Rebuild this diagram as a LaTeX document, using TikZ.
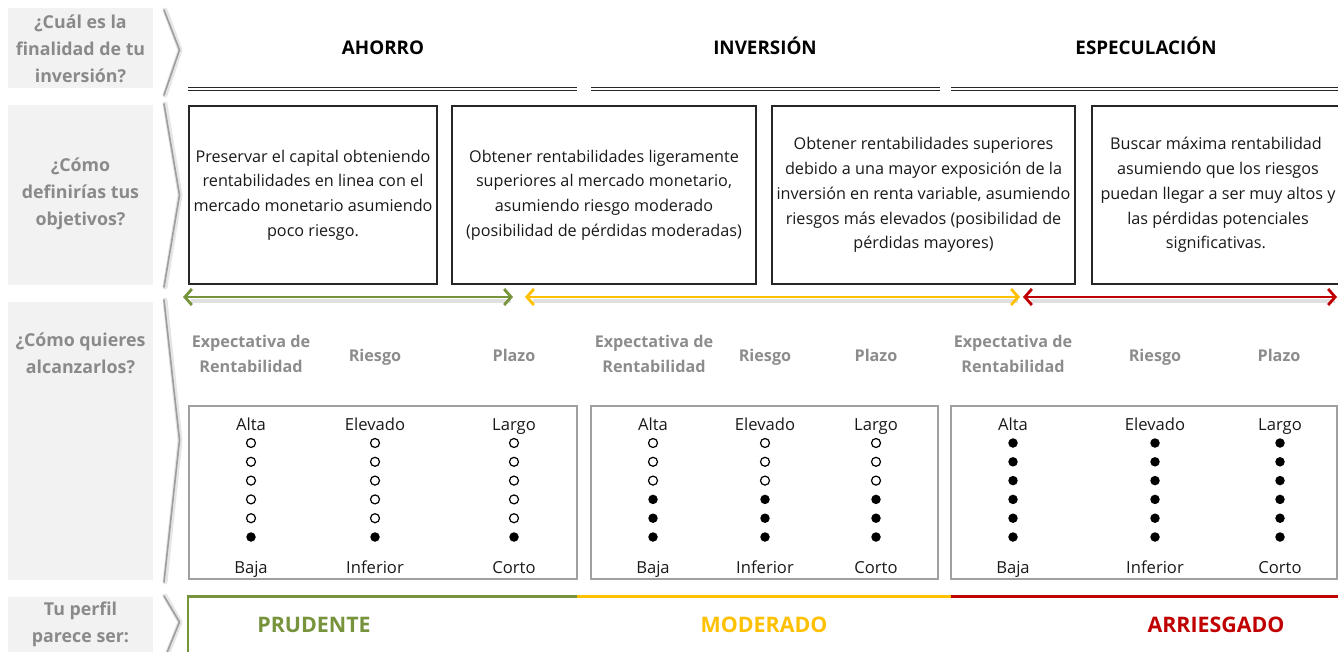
\documentclass[tikz,border=0pt]{standalone}
\usepackage{fontspec}
\setmainfont{Open Sans}
\usetikzlibrary{arrows.meta}
\definecolor{panelbg}{HTML}{F2F2F2}
\definecolor{paneltxt}{HTML}{8A8A8A}
\definecolor{hdrgray}{HTML}{8C8C8C}
\definecolor{cgreen}{HTML}{77933C}
\definecolor{cyellow}{HTML}{FFC000}
\definecolor{cred}{HTML}{C00000}
\definecolor{boxgray}{HTML}{A0A0A0}
\newcommand\myfs[2]{\fontsize{#1}{#2}\selectfont}
\begin{document}
\begin{tikzpicture}[x=1pt,y=-1pt,
  panel/.style={fill=panelbg, draw=none},
  ptext/.style={text=paneltxt, align=center, font=\bfseries\myfs{17.8}{27}, inner sep=0},
  chev/.style={draw=black!38, line width=1.6pt, line join=round, line cap=round},
  chevshadow/.style={draw=black!10, line width=5pt, line join=round, line cap=round},
  hdr/.style={font=\bfseries\myfs{18.8}{22}, text=black, inner sep=0, anchor=base},
  dbl/.style={draw=black!85, double=white, line width=1.2pt, double distance=1.6pt},
  objbox/.style={draw=black!85, line width=1.4pt, align=center, font=\myfs{16.2}{24.8}, text=black!90, inner sep=0},
  colhdr/.style={text=hdrgray, align=center, font=\bfseries\myfs{16.2}{25}, inner sep=0},
  dotbox/.style={draw=boxgray, line width=1.4pt},
  lbl/.style={font=\myfs{16.6}{18}, text=black!90, inner sep=0, anchor=base},
  opendot/.style={circle, draw=black, line width=1.2pt, fill=white, inner sep=0, minimum size=9pt},
  filldot/.style={circle, fill=black, inner sep=0, minimum size=9.5pt},
  rng/.style={line width=2.8pt, {Straight Barb[length=7pt,width=16pt]}-{Straight Barb[length=7pt,width=16pt]}},
  rngshadow/.style={draw=black!12, line width=4pt},
  prof/.style={font=\bfseries\myfs{21.4}{24}, inner sep=0, anchor=base},
  bar/.style={line width=2.8pt}
]
\useasboundingbox (0,0) rectangle (1338,651);

% ---- left panels ----
\fill[panel] (8,8) rectangle (153,88);
\fill[panel] (8,105) rectangle (153,285);
\fill[panel] (8,302) rectangle (153,580);
\fill[panel] (8,597) rectangle (153,660);

\node[ptext] (q1) at (80.5,49) {¿Cuál es la\\finalidad de tu\\inversión?};
\node[ptext] (q2) at (80.5,194) {¿Cómo\\definirías tus\\objetivos?};
\node[ptext] (q3) at (80.5,353.5) {¿Cómo quieres\\alcanzarlos?};
\node[ptext] (q4) at (80.5,624.5) {Tu perfil\\parece ser:};

% ---- chevrons ----
\foreach \ya/\yb/\yc in {10/50/95, 104/195/287, 300/440/582, 596/622/660}{
  \draw[chevshadow] (165,\ya) -- (180,\yb) -- (165,\yc);
  \draw[chev] (164,\ya) -- (179.5,\yb) -- (164,\yc);
}

% ---- headers ----
\node[hdr] (h1) at (383,54.5) {AHORRO};
\node[hdr] (h2) at (765,54.5) {INVERSIÓN};
\node[hdr] (h3) at (1146,54.5) {ESPECULACIÓN};
\coordinate (d1a) at (188,89); \coordinate (d1b) at (577,89);
\coordinate (d2a) at (591,89); \coordinate (d2b) at (940,89);
\coordinate (d3a) at (951,89); \coordinate (d3b) at (1345,89);
\draw[dbl] (d1a) -- (d1b);
\draw[dbl] (d2a) -- (d2b);
\draw[dbl] (d3a) -- (d3b);

% ---- objective boxes ----
\node[objbox, minimum width=248pt, minimum height=178pt] (o1) at (313,195)
  {Preservar el capital obteniendo\\rentabilidades en linea con el\\mercado monetario asumiendo\\poco riesgo.};
\node[objbox, minimum width=304pt, minimum height=178pt] (o2) at (604,195)
  {Obtener rentabilidades ligeramente\\superiores al mercado monetario,\\asumiendo riesgo moderado\\(posibilidad de pérdidas moderadas)};
\node[objbox, minimum width=303pt, minimum height=178pt] (o3) at (923.5,195)
  {Obtener rentabilidades superiores\\debido a una mayor exposición de la\\inversión en renta variable, asumiendo\\riesgos más elevados (posibilidad de\\pérdidas mayores)};
\node[objbox, minimum width=256pt, minimum height=178pt] (o4) at (1220,195)
  {\hspace*{-4pt}Buscar máxima rentabilidad\hspace*{4pt}\\\hspace*{-4pt}asumiendo que los riesgos\hspace*{4pt}\\\hspace*{-4pt}puedan llegar a ser muy altos y\hspace*{4pt}\\\hspace*{-4pt}las pérdidas potenciales\hspace*{4pt}\\\hspace*{-4pt}significativas.\hspace*{4pt}};

% ---- range arrows ----
\coordinate (g1) at (183,297); \coordinate (g2) at (513,297);
\coordinate (y1) at (525,297); \coordinate (y2) at (1020,297);
\coordinate (r1) at (1023,297); \coordinate (r2) at (1337,297);
\draw[rngshadow] ([shift={(8,4)}]g1) -- ([shift={(-2,4)}]g2);
\draw[rngshadow] ([shift={(8,4)}]y1) -- ([shift={(-2,4)}]y2);
\draw[rngshadow] ([shift={(8,4)}]r1) -- ([shift={(-2,4)}]r2);
\draw[rng, cgreen] (g1) -- (g2);
\draw[rng, cyellow] (y1) -- (y2);
\draw[rng, cred] (r1) -- (r2);

% ---- column headers ----
\foreach \g/\xa/\xb/\xc in {A/251/375/514, B/654/765/876, C/1013/1155/1279}{
  \node[colhdr] (e\g) at (\xa,353.5) {Expectativa de\\Rentabilidad};
  \node[colhdr, anchor=base] (r\g) at (\xb,361) {Riesgo};
  \node[colhdr, anchor=base] (p\g) at (\xc,361) {Plazo};
}

% ---- dot boxes ----
\node[dotbox, minimum width=388pt, minimum height=173pt, inner sep=0] (bA) at (383,492.5) {};
\node[dotbox, minimum width=347pt, minimum height=173pt, inner sep=0] (bB) at (764.5,492.5) {};
\node[dotbox, minimum width=386pt, minimum height=173pt, inner sep=0] (bC) at (1144,492.5) {};

\foreach \g/\xa/\xb/\xc/\nopen in {A/251/375/514/5, B/653/765/876/3, C/1013/1155/1280/0}{
  \node[lbl] (ta\g) at (\xa,430) {Alta};
  \node[lbl] (tb\g) at (\xb,430) {Elevado};
  \node[lbl] (tc\g) at (\xc,430) {Largo};
  \node[lbl] (ba\g) at (\xa,573) {Baja};
  \node[lbl] (bb\g) at (\xb,573) {Inferior};
  \node[lbl] (bc\g) at (\xc,573) {Corto};
  \foreach \cx in {\xa,\xb,\xc}{
    \foreach \k in {0,...,5}{
      \pgfmathsetmacro{\yy}{443+\k*18.8}
      \ifnum\k<\nopen
        \node[opendot] (dot\g-\cx-\k) at (\cx,\yy) {};
      \else
        \node[filldot] (dot\g-\cx-\k) at (\cx,\yy) {};
      \fi
    }
  }
}

% ---- profile bar ----
\coordinate (pb0) at (188,660);
\coordinate (pb1) at (188,596.5);
\coordinate (pb2) at (577,596.5);
\coordinate (pb3) at (951,596.5);
\coordinate (pb4) at (1345,596.5);
\draw[bar, cgreen] (pb0) -- (pb1) -- (pb2);
\draw[bar, cyellow] (pb2) -- (pb3);
\draw[bar, cred] (pb3) -- (pb4);
\node[prof, text=cgreen] (pr1) at (314,632.5) {PRUDENTE};
\node[prof, text=cyellow] (pr2) at (764,632.5) {MODERADO};
\node[prof, text=cred] (pr3) at (1216,632.5) {ARRIESGADO};
\end{tikzpicture}
\end{document}
